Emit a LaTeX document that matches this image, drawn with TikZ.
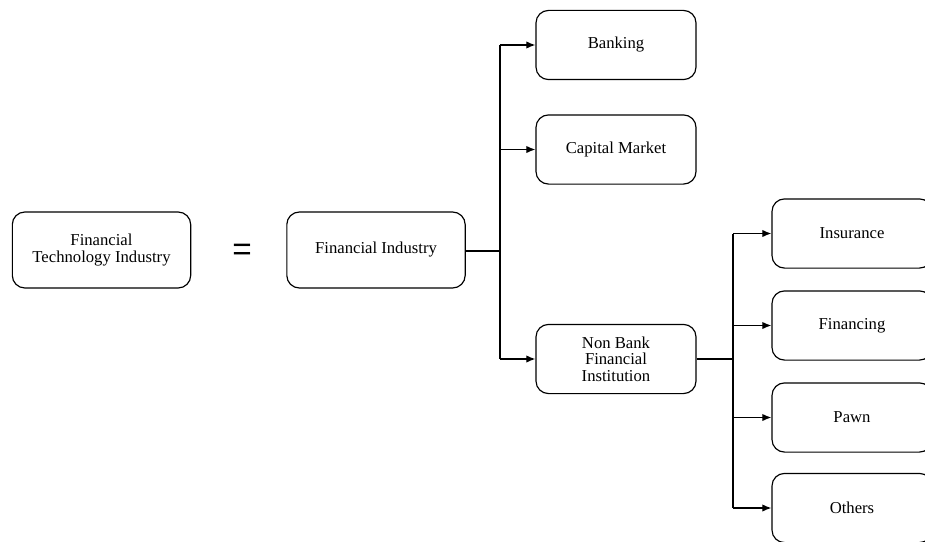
\documentclass[tikz,border=0pt]{standalone}
\usepackage{fontspec}
\setmainfont{Liberation Serif}
\setsansfont{Liberation Sans}
\usetikzlibrary{arrows.meta}
\tikzset{
  box/.style={draw,rounded corners=7.5pt,line width=0.7pt,align=center,
    font=\fontsize{10}{10}\selectfont,minimum width=96pt,minimum height=41.5pt},
  bigbox/.style={box,minimum width=107pt,minimum height=45.6pt},
  feed/.style={line width=1.2pt},
  branch/.style={line width=0.8pt,-{Latex[length=5.5pt,width=4.5pt]}}
}
\begin{document}
\begin{tikzpicture}[x=0.6pt,y=-0.6pt]
    \path[use as bounding box] (0,0) rectangle (925,541);
    \clip (0,0) rectangle (925,541);
    % left side
    \node[bigbox] (fti) at (101.5,250) {Financial\\Technology Industry};
    \node[font=\sffamily\fontsize{20}{24}\selectfont] (eq) at (242,252) {=};
    \node[bigbox] (fi) at (376,250) {Financial Industry};
    % first level
    \node[box] (bank) at (616,45) {Banking};
    \node[box] (cap) at (616,149.5) {Capital Market};
    \node[box] (nbfi) at (616,359) {Non Bank\\Financial\\Institution};
    % second level
    \node[box] (ins) at (852,233.5) {Insurance};
    \node[box] (fin) at (852,325.5) {Financing};
    \node[box] (pawn) at (852,417.5) {Pawn};
    \node[box] (oth) at (852,508) {Others};
    \coordinate (jointA) at (500,251);
    \coordinate (jointB) at (733,359);
    % connectors
    \draw[feed] (fi.east |- jointA) -- (jointA);
    \draw[line width=0.8pt] (jointA |- bank) -- (jointA |- nbfi);
    \draw[branch] (jointA |- bank) -- (bank.west);
    \draw[branch] (jointA |- cap) -- (cap.west);
    \draw[branch] (jointA |- nbfi) -- (nbfi.west);
    \draw[feed] (nbfi.east) -- (jointB);
    \draw[line width=0.8pt] (jointB |- ins) -- (jointB |- oth);
    \draw[branch] (jointB |- ins) -- (ins.west);
    \draw[branch] (jointB |- fin) -- (fin.west);
    \draw[branch] (jointB |- pawn) -- (pawn.west);
    \draw[branch] (jointB |- oth) -- (oth.west);
\end{tikzpicture}
\end{document}
